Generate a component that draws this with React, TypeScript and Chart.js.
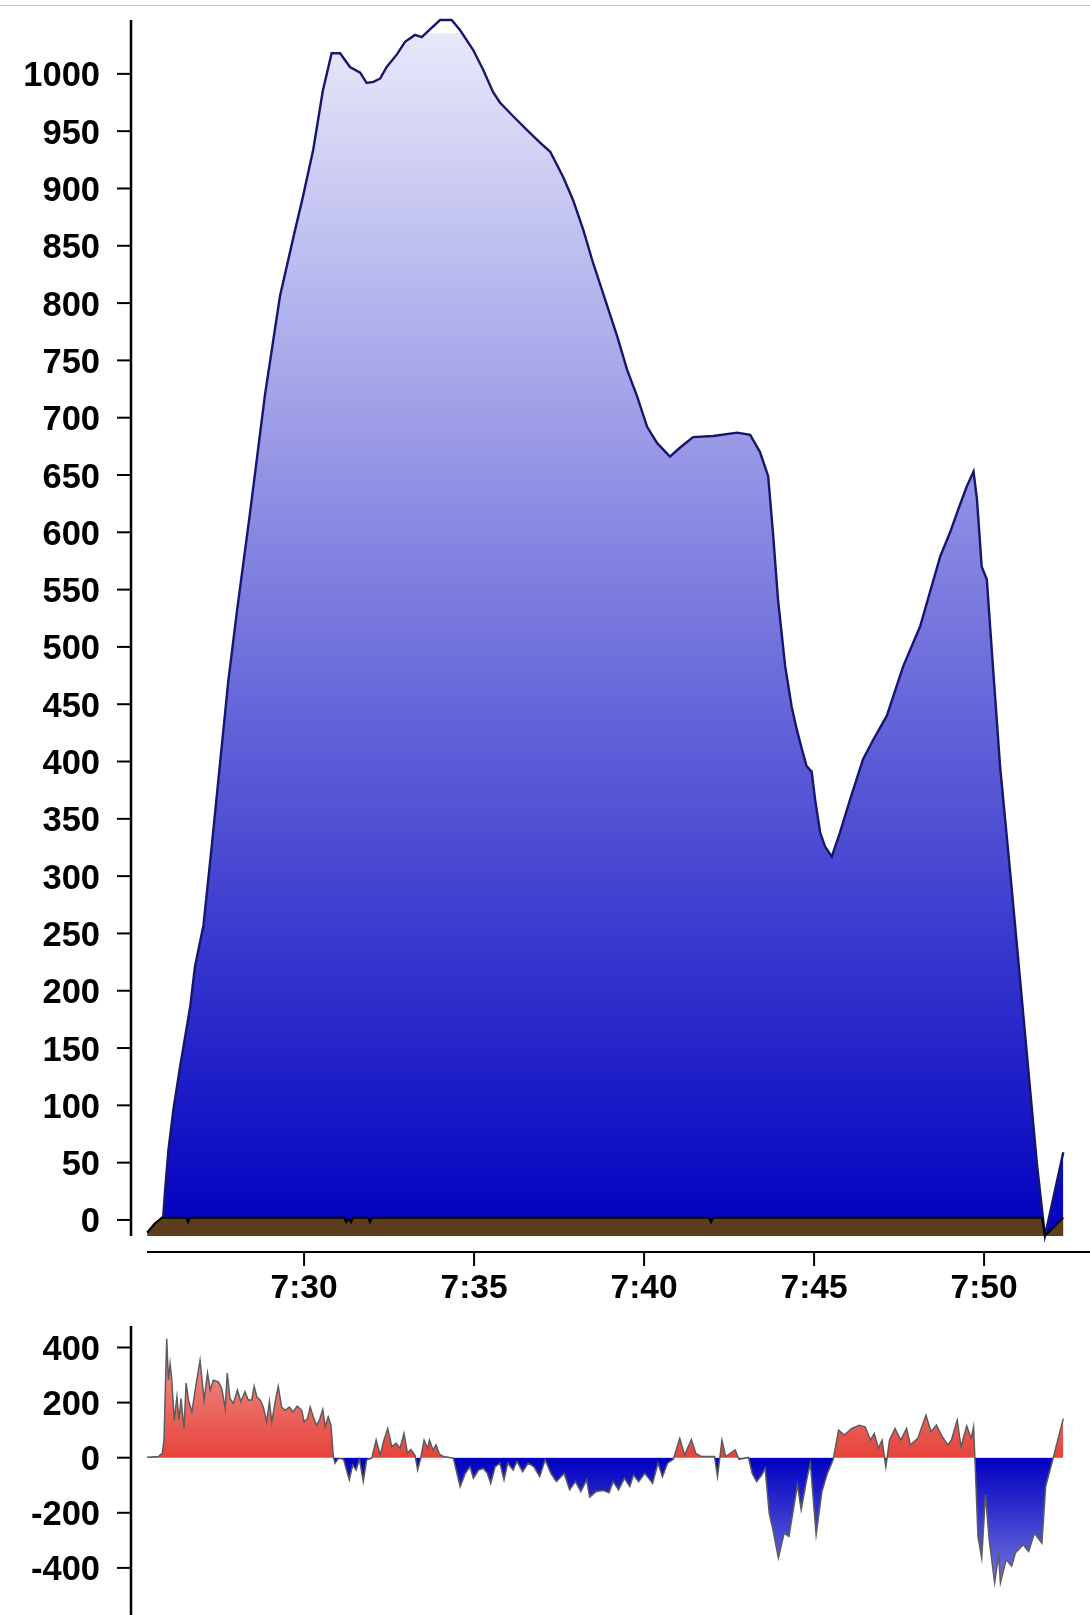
import React, { useEffect, useRef } from "react";
import { Chart, registerables } from "chart.js";

Chart.register(...registerables);

// ---- time axis: minutes after 7:00 ----
const timeTicks = [30, 35, 40, 45, 50];
const timeMin = 25.38;
const timeMax = 53.115;

// ---- altitude (top chart) ----
const altTimes = [
  25.39, 25.62, 25.81, 25.86, 25.91, 26.01, 26.16, 26.35, 26.65, 26.79, 27.04, 27.29, 27.53, 27.77, 28.02,
  28.41, 28.85, 29.29, 29.69, 29.96, 30.27, 30.55, 30.81, 31.06, 31.35, 31.65, 31.84, 32.04, 32.24, 32.43,
  32.73, 32.97, 33.26, 33.46, 33.71, 34.0, 34.34, 34.59, 34.97, 35.26, 35.56, 35.76, 36.15, 36.56, 36.94,
  37.24, 37.62, 37.91, 38.21, 38.5, 38.79, 39.21, 39.5, 39.79, 40.09, 40.38, 40.76, 41.06, 41.44, 42.03,
  42.74, 43.12, 43.41, 43.65, 43.79, 43.94, 44.15, 44.34, 44.49, 44.64, 44.78, 44.93, 45.03, 45.18, 45.32,
  45.52, 45.76, 46.06, 46.44, 46.74, 47.14, 47.62, 48.12, 48.41, 48.71, 49.0, 49.24, 49.49, 49.69, 49.79,
  49.93, 50.08, 50.26, 50.47, 50.81, 51.15, 51.55, 51.79, 52.33,
];
const altValues = [
  -11, -3, -1, 4, 25, 61, 97, 133, 186, 221, 257, 328, 399, 470, 530,
  617, 720, 806, 858, 892, 934, 985, 1018, 1018, 1006, 1001, 992, 993, 996, 1006,
  1017, 1028, 1034, 1032, 1039, 1047, 1047, 1038, 1021, 1004, 984, 975, 963, 951, 940,
  932, 910, 890, 864, 835, 809, 771, 742, 719, 692, 678, 666, 674, 683, 684,
  687, 685, 670, 649, 600, 541, 483, 448, 428, 411, 396, 391, 367, 338, 326,
  317, 338, 367, 402, 419, 440, 483, 518, 548, 579, 600, 620, 640, 653, 629,
  570, 559, 483, 396, 290, 180, 50, -14, 59,
];

// ---- ground (top chart) ----
const groundTimes = [
  25.39, 25.62, 25.81, 26.53, 26.59, 26.65, 31.18, 31.24, 31.32, 31.38, 31.44, 31.88, 31.94, 32.0,
  41.91, 41.97, 42.03, 51.7, 51.79, 52.33,
];
const groundValues = [-11, -3, 2, 2, -2, 2, 2, -2, 1, -2, 2, 2, -2, 2, 2, -2, 2, 2, -14, 2];

const altTicks = [0, 50, 100, 150, 200, 250, 300, 350, 400, 450, 500, 550, 600, 650, 700, 750, 800, 850, 900, 950, 1000];
const altMin = -14;
const altMax = 1047;

// ---- vario (bottom chart) ----
const varioTimes = [
  25.38, 25.71, 25.83, 25.88, 25.96, 26.01, 26.06, 26.11, 26.18, 26.26, 26.32, 26.38, 26.47, 26.53, 26.6,
  26.7, 26.79, 26.94, 27.06, 27.16, 27.24, 27.33, 27.48, 27.58, 27.68, 27.74, 27.82, 27.92, 28.04, 28.14,
  28.26, 28.36, 28.46, 28.53, 28.61, 28.71, 28.8, 28.9, 28.98, 29.05, 29.15, 29.24, 29.34, 29.44, 29.57,
  29.67, 29.8, 29.93, 30.0, 30.1, 30.18, 30.27, 30.37, 30.45, 30.55, 30.62, 30.71, 30.79, 30.86, 30.91,
  31.01, 31.16, 31.33, 31.43, 31.53, 31.63, 31.74, 31.84, 31.99, 32.12, 32.24, 32.35, 32.46, 32.58, 32.71,
  32.82, 32.94, 33.04, 33.14, 33.26, 33.34, 33.43, 33.53, 33.63, 33.69, 33.79, 33.88, 33.98, 34.1, 34.39,
  34.59, 34.74, 34.88, 34.98, 35.13, 35.27, 35.39, 35.49, 35.62, 35.76, 35.88, 35.99, 36.15, 36.26, 36.43,
  36.59, 36.76, 36.93, 37.09, 37.26, 37.42, 37.65, 37.81, 37.98, 38.14, 38.31, 38.4, 38.59, 38.81, 38.97,
  39.09, 39.25, 39.42, 39.58, 39.69, 39.84, 40.02, 40.25, 40.41, 40.54, 40.69, 40.86, 41.05, 41.19, 41.39,
  41.52, 41.69, 42.07, 42.16, 42.29, 42.4, 42.68, 42.79, 43.07, 43.18, 43.31, 43.46, 43.56, 43.68, 43.79,
  43.95, 44.12, 44.26, 44.51, 44.62, 44.78, 44.89, 45.06, 45.23, 45.39, 45.56, 45.72, 45.89, 46.11, 46.33,
  46.5, 46.66, 46.77, 46.89, 47.0, 47.11, 47.22, 47.38, 47.55, 47.72, 47.83, 48.05, 48.29, 48.44, 48.6,
  48.77, 48.93, 49.04, 49.21, 49.32, 49.49, 49.62, 49.69, 49.73, 49.82, 49.93, 50.04, 50.15, 50.31, 50.43,
  50.48, 50.65, 50.81, 50.92, 51.15, 51.31, 51.48, 51.7, 51.81, 52.03, 52.33,
];
const varioValues = [
  2, 4, 16, 64, 432, 281, 341, 281, 136, 221, 136, 215, 106, 271, 209,
  166, 239, 353, 209, 307, 245, 281, 275, 251, 178, 307, 215, 197, 245, 203,
  239, 209, 209, 259, 221, 209, 184, 130, 203, 130, 203, 259, 184, 172, 184,
  166, 187, 172, 130, 142, 184, 148, 118, 136, 175, 112, 148, 118, 4, -20,
  -2, -6, -81, -27, -45, -6, -87, -8, -2, 64, 10, 64, 106, 40, 52,
  34, 88, 16, 30, 10, -45, -2, 64, 34, 64, 28, 46, 13, 4, -2,
  -105, -57, -33, -75, -45, -39, -57, -93, -33, -20, -81, -20, -45, -14, -51,
  -20, -33, -69, -8, -57, -87, -57, -117, -87, -123, -81, -143, -123, -119, -127,
  -87, -117, -75, -105, -63, -87, -57, -93, -20, -69, -20, -6, 70, 10, 66,
  16, 4, 4, -69, 64, 4, 28, -6, 1, -57, -87, -63, -39, -201, -262,
  -364, -274, -286, -99, -189, -81, -20, -280, -123, -57, -8, 100, 82, 106, 118,
  112, 64, 88, 34, 64, -33, 64, 106, 64, 106, 46, 70, 154, 94, 118,
  76, 46, 64, 136, 40, 115, 70, 112, -2, -286, -364, -135, -298, -454, -352,
  -454, -370, -394, -346, -316, -340, -274, -310, -105, -2, 142,
];
const varioTicks = [-400, -200, 0, 200, 400];
const varioMin = -571;
const varioMax = 478;

const FAMILY = "'Liberation Sans', Arial, Helvetica, sans-serif";
const X_FONT = { family: FAMILY, size: 33.5, weight: "bold" as const };
const Y_FONT = { family: FAMILY, size: 34.5, weight: "bold" as const };

function fmtTime(v: number): string {
  const m = Math.round(v);
  return `${7 + Math.floor(m / 60)}:${String(m % 60).padStart(2, "0")}`;
}

function toPoints(xs: number[], ys: number[]) {
  return xs.map((x, i) => ({ x, y: ys[i] }));
}

function fixYScale(s: any) {
  s.width = 147;
  s.paddingTop = 0;
  s.paddingBottom = 0;
}

// Draws D3-style detached axes (axis line offset from the plot area).
const offsetAxes = {
  id: "offsetAxes",
  afterDraw(chart: any, _args: any, opts: any) {
    const { ctx, chartArea, scales } = chart;
    ctx.save();
    ctx.strokeStyle = "#000";
    const ax = chartArea.left - 16;
    ctx.lineWidth = 2.5;
    ctx.beginPath();
    ctx.moveTo(ax, chartArea.top);
    ctx.lineTo(ax, chartArea.bottom);
    ctx.stroke();
    ctx.lineWidth = 2;
    for (const t of scales.y.ticks) {
      const y = scales.y.getPixelForValue(t.value);
      ctx.beginPath();
      ctx.moveTo(ax - 14, y);
      ctx.lineTo(ax, y);
      ctx.stroke();
    }
    if (opts && opts.xAxis) {
      const ay = chartArea.bottom + 16;
      ctx.lineWidth = 2;
      ctx.beginPath();
      ctx.moveTo(chartArea.left, ay);
      ctx.lineTo(chartArea.right, ay);
      ctx.stroke();
      for (const t of scales.x.ticks) {
        const x = scales.x.getPixelForValue(t.value);
        ctx.beginPath();
        ctx.moveTo(x, ay);
        ctx.lineTo(x, ay + 14);
        ctx.stroke();
      }
    }
    ctx.restore();
  },
};

function altGradient(c: any) {
  const chart = c.chart;
  const area = chart.chartArea;
  if (!area) return "#6a6ad8";
  const g = chart.ctx.createLinearGradient(0, area.top, 0, area.bottom);
  const cut = 13 / (area.bottom - area.top);
  g.addColorStop(0, "#ffffff");
  g.addColorStop(cut, "#ffffff");
  g.addColorStop(cut + 0.0005, "#e8e8fa");
  g.addColorStop(1, "#0000c0");
  return g;
}

function varioGradient(c: any) {
  const chart = c.chart;
  const area = chart.chartArea;
  if (!area || !chart.scales.y) return "#e84a40";
  const y0 = chart.scales.y.getPixelForValue(0);
  const f = Math.min(1, Math.max(0, (y0 - area.top) / (area.bottom - area.top)));
  const g = chart.ctx.createLinearGradient(0, area.top, 0, area.bottom);
  g.addColorStop(0, "#f4a6a2");
  g.addColorStop(f, "#e6433a");
  g.addColorStop(Math.min(1, f + 0.0005), "#0000c0");
  g.addColorStop(1, "#9292e6");
  return g;
}

export default function App() {
  const topRef = useRef<HTMLCanvasElement | null>(null);
  const botRef = useRef<HTMLCanvasElement | null>(null);

  useEffect(() => {
    const top = new Chart(topRef.current as HTMLCanvasElement, {
      type: "line",
      data: {
        datasets: [
          {
            label: "ground",
            data: toPoints(groundTimes, groundValues),
            borderColor: "#000000",
            borderWidth: 2,
            backgroundColor: "#5c3d1e",
            fill: "start",
            pointRadius: 0,
            tension: 0,
            clip: 10,
          } as any,
          {
            label: "altitude",
            data: toPoints(altTimes, altValues),
            borderColor: "#16166e",
            borderWidth: 2.4,
            backgroundColor: altGradient,
            fill: "start",
            pointRadius: 0,
            tension: 0,
            clip: 10,
          } as any,
        ],
      },
      options: {
        animation: false,
        responsive: false,
        events: [],
        layout: { padding: { top: 20, left: 0, right: 0, bottom: 0 } },
        plugins: {
          legend: { display: false },
          tooltip: { enabled: false },
          offsetAxes: { xAxis: true },
        } as any,
        scales: {
          x: {
            type: "linear",
            min: timeMin,
            max: timeMax,
            grid: { display: false, drawTicks: false },
            border: { display: false },
            afterBuildTicks: (s: any) => {
              s.ticks = timeTicks.map((v) => ({ value: v }));
            },
            afterFit: (s: any) => {
              s.height = 74;
              s.paddingLeft = 0;
              s.paddingRight = 0;
            },
            ticks: {
              autoSkip: false,
              maxRotation: 0,
              padding: 33,
              color: "#000",
              font: X_FONT,
              callback: (v: any) => fmtTime(Number(v)),
            },
          },
          y: {
            type: "linear",
            min: altMin,
            max: altMax,
            grid: { display: false, drawTicks: false },
            border: { display: false },
            afterBuildTicks: (s: any) => {
              s.ticks = altTicks.map((v) => ({ value: v }));
            },
            afterFit: fixYScale,
            ticks: { autoSkip: false, padding: 47, labelOffset: 3, color: "#000", font: Y_FONT, callback: (v: any) => String(v) },
          },
        },
      },
      plugins: [offsetAxes],
    });

    const bot = new Chart(botRef.current as HTMLCanvasElement, {
      type: "line",
      data: {
        datasets: [
          {
            label: "vario",
            data: toPoints(varioTimes, varioValues),
            borderColor: "#5c5c5c",
            borderWidth: 1.5,
            backgroundColor: varioGradient,
            fill: "origin",
            pointRadius: 0,
            tension: 0,
            clip: 10,
          } as any,
        ],
      },
      options: {
        animation: false,
        responsive: false,
        events: [],
        layout: { padding: { top: 16, left: 0, right: 0, bottom: 0 } },
        plugins: {
          legend: { display: false },
          tooltip: { enabled: false },
          offsetAxes: { xAxis: false },
        } as any,
        scales: {
          x: { type: "linear", min: timeMin, max: timeMax, display: false },
          y: {
            type: "linear",
            min: varioMin,
            max: varioMax,
            grid: { display: false, drawTicks: false },
            border: { display: false },
            afterBuildTicks: (s: any) => {
              s.ticks = varioTicks.map((v) => ({ value: v }));
            },
            afterFit: fixYScale,
            ticks: { autoSkip: false, padding: 47, labelOffset: 3, color: "#000", font: Y_FONT, callback: (v: any) => String(v) },
          },
        },
      },
      plugins: [offsetAxes],
    });

    return () => {
      top.destroy();
      bot.destroy();
    };
  }, []);

  return (
    <div style={{ position: "absolute", left: 0, top: 0, width: 1090, height: 1615, background: "#fff", overflow: "hidden" }}>
      <div style={{ position: "absolute", left: 0, top: 5, width: 1090, height: 1, background: "#bdbdbd" }} />
      <canvas ref={topRef} width={1090} height={1310} style={{ position: "absolute", left: 0, top: 0, display: "block" }} />
      <canvas ref={botRef} width={1090} height={305} style={{ position: "absolute", left: 0, top: 1310, display: "block" }} />
    </div>
  );
}
